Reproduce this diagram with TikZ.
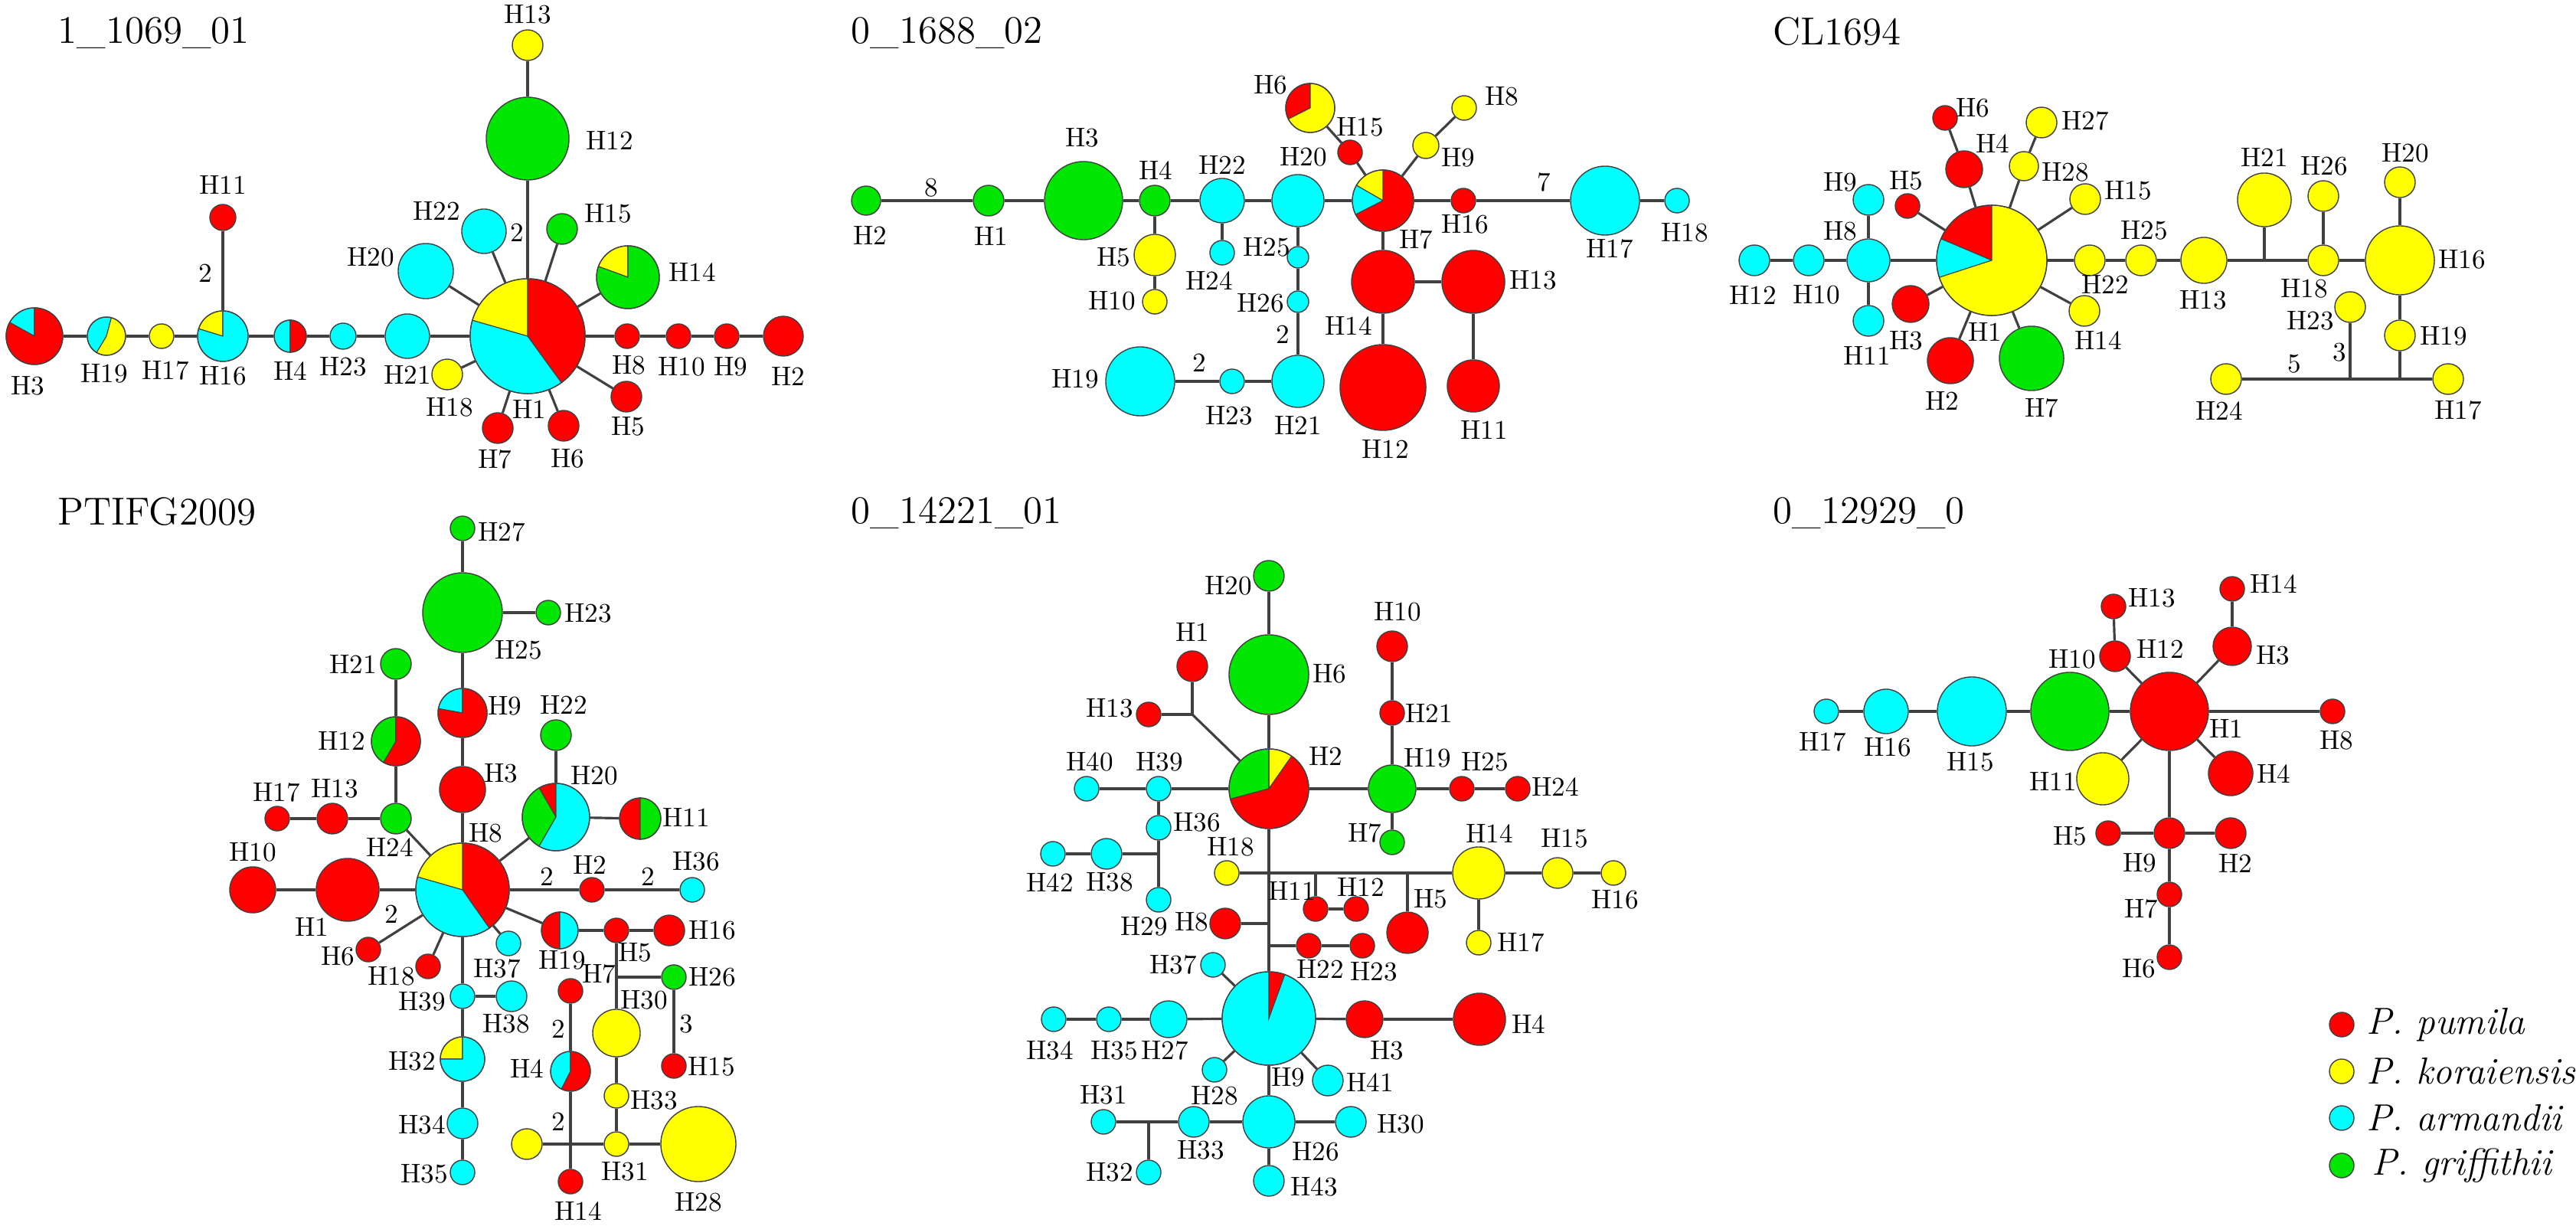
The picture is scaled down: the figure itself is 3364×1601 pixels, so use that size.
\documentclass[tikz,border=0pt]{standalone}
\usepackage{tikz}
\usetikzlibrary{calc}

\definecolor{cpum}{RGB}{255,0,0}
\definecolor{ckor}{RGB}{255,255,0}
\definecolor{carm}{RGB}{0,255,255}
\definecolor{cgri}{RGB}{0,230,0}

% haplotype circle: name, x, y, radius, colour
\newcommand{\haplo}[5]{\node[hap, fill=#5, minimum size=#4*0.02cm] (#1) at (#2,#3) {};}
% haplotype pie: name, x, y, radius, colour/start/end
\newcommand{\haplopie}[5]{%
  \foreach \c/\a/\b in {#5}
    {\filldraw[fill=\c, slice] (#2,#3) -- +(-\a:#4) arc[start angle=-\a, end angle=-\b, radius=#4] -- cycle;}
  \node[hap, minimum size=#4*0.02cm] (#1) at (#2,#3) {};}
\newcommand{\haplab}[4]{\node[lbl] (#1) at (#2,#3) {#4};}

\begin{document}
\begin{tikzpicture}[x=0.01cm, y=-0.01cm,
    hap/.style={circle, draw=black!75, line width=0.4pt, inner sep=0pt},
    slice/.style={draw=black!75, line width=0.3pt},
    edge/.style={draw=black!75, line width=0.9pt},
    lbl/.style={inner sep=0pt, font=\fontsize{10}{12}\selectfont},
    ttl/.style={inner sep=0pt, anchor=west, font=\fontsize{14.5}{17}\selectfont},
    leg/.style={inner sep=0pt, anchor=west, font=\fontsize{14}{16}\selectfont\itshape}]
    \useasboundingbox (0,0) rectangle (3364,1601);

    % 1_1069_01
    \node[ttl] (aTitle) at (75,43) {1\_1069\_01};
    \haplopie{aH3}{45}{439}{37}{carm/90/151, cpum/151/450}
    \haplopie{aH19}{139}{439}{25}{carm/75/239, ckor/239/435}
    \haplo{aH17}{211}{439}{16}{ckor}
    \haplopie{aH16}{291}{439}{33}{ckor/90/163, carm/163/450}
    \haplo{aH11}{291}{284}{17}{cpum}
    \haplopie{aH4}{379}{439}{21}{carm/90/270, cpum/270/450}
    \haplo{aH23}{448}{439}{17}{carm}
    \haplo{aH21}{532}{439}{29}{carm}
    \haplopie{aH1}{689}{439}{75}{cpum/306/450, ckor/90/164, carm/164/306}
    \haplo{aH12}{689}{181}{54}{cgri}
    \haplo{aH13}{689}{59}{20}{ckor}
    \haplo{aH22}{632}{302}{29}{carm}
    \haplo{aH20}{556}{354}{36}{carm}
    \haplo{aH15}{734}{299}{20}{cgri}
    \haplopie{aH14}{820}{362}{41}{ckor/90/160, cgri/160/450}
    \haplo{aH18}{584}{489}{20}{ckor}
    \haplo{aH7}{650}{559}{20}{cpum}
    \haplo{aH6}{736}{556}{20}{cpum}
    \haplo{aH5}{818}{518}{20}{cpum}
    \haplo{aH8}{819}{439}{16}{cpum}
    \haplo{aH10}{886}{439}{16}{cpum}
    \haplo{aH9}{949}{439}{16}{cpum}
    \haplo{aH2}{1023}{439}{26}{cpum}
    \draw[edge] (aH3)--(aH19); \draw[edge] (aH19)--(aH17); \draw[edge] (aH17)--(aH16);
    \draw[edge] (aH16)--(aH4); \draw[edge] (aH4)--(aH23); \draw[edge] (aH23)--(aH21);
    \draw[edge] (aH21)--(aH1); \draw[edge] (aH1)--(aH8); \draw[edge] (aH8)--(aH10);
    \draw[edge] (aH10)--(aH9); \draw[edge] (aH9)--(aH2); \draw[edge] (aH16)--(aH11);
    \draw[edge] (aH1)--(aH12); \draw[edge] (aH12)--(aH13);
    \draw[edge] (aH1)--(aH22); \draw[edge] (aH1)--(aH20); \draw[edge] (aH1)--(aH15);
    \draw[edge] (aH1)--(aH14); \draw[edge] (aH1)--(aH18); \draw[edge] (aH1)--(aH7);
    \draw[edge] (aH1)--(aH6); \draw[edge] (aH1)--(aH5);
    \haplab{aL3}{36}{504}{H3} \haplab{aL19}{136}{488}{H19} \haplab{aL17}{216}{484}{H17}
    \haplab{aL16}{291}{491}{H16} \haplab{aL11}{291}{241}{H11} \haplab{aN1}{268}{357}{2}
    \haplab{aL4}{379}{484}{H4} \haplab{aL23}{448}{479}{H23} \haplab{aL21}{532}{489}{H21}
    \haplab{aL18}{587}{532}{H18} \haplab{aL1}{691}{534}{H1} \haplab{aL7}{646}{600}{H7}
    \haplab{aL6}{741}{599}{H6} \haplab{aL5}{820}{557}{H5} \haplab{aL8}{821}{477}{H8}
    \haplab{aL10}{890}{479}{H10} \haplab{aL9}{954}{479}{H9} \haplab{aL2}{1029}{491}{H2}
    \haplab{aL12}{796}{184}{H12} \haplab{aL13}{689}{19}{H13} \haplab{aL22}{570}{275}{H22}
    \haplab{aN2}{675}{304}{2} \haplab{aL20}{484}{336}{H20} \haplab{aL15}{794}{279}{H15}
    \haplab{aL14}{904}{355}{H14}

    % 0_1688_02
    \node[ttl] (bTitle) at (1111,43) {0\_1688\_02};
    \haplo{bH2}{1131}{262}{19}{cgri}
    \haplo{bH1}{1291}{262}{20}{cgri}
    \haplo{bH3}{1415}{262}{51}{cgri}
    \haplo{bH4}{1508}{262}{20}{cgri}
    \haplo{bH5}{1508}{333}{27}{ckor}
    \haplo{bH10}{1508}{394}{16}{ckor}
    \haplo{bH22}{1596}{262}{29}{carm}
    \haplo{bH24}{1596}{330}{16}{carm}
    \haplo{bH20}{1695}{262}{34}{carm}
    \haplo{bH25}{1695}{336}{14}{carm}
    \haplo{bH26}{1695}{394}{14}{carm}
    \haplo{bH21}{1695}{498}{34}{carm}
    \haplo{bH23}{1609}{498}{16}{carm}
    \haplo{bH19}{1489}{498}{45}{carm}
    \haplopie{bH7}{1806}{262}{40}{ckor/90/150, carm/150/207, cpum/207/450}
    \haplo{bH15}{1763}{199}{16}{cpum}
    \haplopie{bH6}{1711}{141}{32}{cpum/90/207, ckor/207/450}
    \haplo{bH9}{1862}{190}{17}{ckor}
    \haplo{bH8}{1912}{141}{16}{ckor}
    \haplo{bH16}{1911}{262}{16}{cpum}
    \haplo{bH17}{2096}{262}{45}{carm}
    \haplo{bH18}{2190}{262}{16}{carm}
    \haplo{bH14}{1806}{368}{41}{cpum}
    \haplo{bH13}{1924}{368}{41}{cpum}
    \haplo{bH12}{1806}{506}{56}{cpum}
    \haplo{bH11}{1924}{504}{34}{cpum}
    \draw[edge] (bH2)--(bH1); \draw[edge] (bH1)--(bH3); \draw[edge] (bH3)--(bH4);
    \draw[edge] (bH4)--(bH22); \draw[edge] (bH22)--(bH20); \draw[edge] (bH20)--(bH7);
    \draw[edge] (bH7)--(bH16); \draw[edge] (bH16)--(bH17); \draw[edge] (bH17)--(bH18);
    \draw[edge] (bH4)--(bH5); \draw[edge] (bH5)--(bH10); \draw[edge] (bH22)--(bH24);
    \draw[edge] (bH20)--(bH25); \draw[edge] (bH25)--(bH26); \draw[edge] (bH26)--(bH21);
    \draw[edge] (bH21)--(bH23); \draw[edge] (bH23)--(bH19);
    \draw[edge] (bH7)--(bH15); \draw[edge] (bH15)--(bH6); \draw[edge] (bH7)--(bH9);
    \draw[edge] (bH9)--(bH8); \draw[edge] (bH7)--(bH14); \draw[edge] (bH14)--(bH13);
    \draw[edge] (bH14)--(bH12); \draw[edge] (bH13)--(bH11);
    \haplab{bL2}{1136}{307}{H2} \haplab{bN1}{1216}{245}{8} \haplab{bL1}{1294}{309}{H1}
    \haplab{bL3}{1413}{180}{H3} \haplab{bL4}{1509}{223}{H4} \haplab{bL5}{1454}{336}{H5}
    \haplab{bL10}{1452}{393}{H10} \haplab{bL22}{1596}{216}{H22} \haplab{bL24}{1579}{366}{H24}
    \haplab{bL20}{1702}{205}{H20} \haplab{bL25}{1654}{323}{H25} \haplab{bL26}{1646}{396}{H26}
    \haplab{bN2}{1675}{437}{2} \haplab{bL21}{1695}{555}{H21} \haplab{bL23}{1605}{543}{H23}
    \haplab{bN3}{1566}{474}{2} \haplab{bL19}{1404}{495}{H19} \haplab{bL7}{1849}{313}{H7}
    \haplab{bL15}{1776}{166}{H15} \haplab{bL6}{1659}{111}{H6} \haplab{bL9}{1904}{206}{H9}
    \haplab{bL8}{1961}{126}{H8} \haplab{bL16}{1913}{293}{H16} \haplab{bN4}{2016}{238}{7}
    \haplab{bL17}{2102}{325}{H17} \haplab{bL18}{2200}{304}{H18} \haplab{bL14}{1761}{425}{H14}
    \haplab{bL13}{2002}{366}{H13} \haplab{bL12}{1809}{586}{H12} \haplab{bL11}{1938}{561}{H11}

    % CL1694
    \node[ttl] (cTitle) at (2315,41) {CL1694};
    \haplo{cH12}{2291}{340}{20}{carm}
    \haplo{cH10}{2362}{340}{20}{carm}
    \haplo{cH8}{2440}{340}{28}{carm}
    \haplo{cH9}{2440}{261}{20}{carm}
    \haplo{cH11}{2440}{419}{20}{carm}
    \haplopie{cH1}{2601}{340}{72}{cpum/90/157, carm/157/198, ckor/198/450}
    \haplo{cH5}{2491}{269}{16}{cpum}
    \haplo{cH6}{2540}{154}{16}{cpum}
    \haplo{cH4}{2565}{221}{24}{cpum}
    \haplo{cH27}{2666}{160}{20}{ckor}
    \haplo{cH28}{2643}{217}{19}{ckor}
    \haplo{cH15}{2723}{260}{20}{ckor}
    \haplo{cH22}{2729}{340}{20}{ckor}
    \haplo{cH14}{2722}{406}{20}{ckor}
    \haplo{cH7}{2653}{468}{42}{cgri}
    \haplo{cH2}{2547}{471}{30}{cpum}
    \haplo{cH3}{2495}{397}{24}{cpum}
    \haplo{cH25}{2796}{340}{20}{ckor}
    \haplo{cH13}{2878}{340}{30}{ckor}
    \coordinate (cJ1) at (2957,340);
    \haplo{cH21}{2957}{261}{35}{ckor}
    \haplo{cH18}{3034}{340}{20}{ckor}
    \haplo{cH26}{3034}{256}{20}{ckor}
    \haplo{cH16}{3134}{340}{45}{ckor}
    \haplo{cH20}{3134}{238}{20}{ckor}
    \haplo{cH19}{3134}{438}{20}{ckor}
    \haplo{cH23}{3069}{401}{20}{ckor}
    \haplo{cH24}{2907}{495}{20}{ckor}
    \haplo{cH17}{3197}{495}{20}{ckor}
    \coordinate (cJ2) at (3069,495);
    \coordinate (cJ3) at (3134,495);
    \draw[edge] (cH12)--(cH10); \draw[edge] (cH10)--(cH8); \draw[edge] (cH8)--(cH1);
    \draw[edge] (cH8)--(cH9); \draw[edge] (cH8)--(cH11);
    \draw[edge] (cH1)--(cH5); \draw[edge] (cH1)--(cH4); \draw[edge] (cH4)--(cH6);
    \draw[edge] (cH1)--(cH28); \draw[edge] (cH28)--(cH27); \draw[edge] (cH1)--(cH15);
    \draw[edge] (cH1)--(cH22); \draw[edge] (cH1)--(cH14); \draw[edge] (cH1)--(cH7);
    \draw[edge] (cH1)--(cH2); \draw[edge] (cH1)--(cH3);
    \draw[edge] (cH22)--(cH25); \draw[edge] (cH25)--(cH13); \draw[edge] (cH13)--(cJ1);
    \draw[edge] (cJ1)--(cH18); \draw[edge] (cJ1)--(cH21); \draw[edge] (cH18)--(cH16);
    \draw[edge] (cH18)--(cH26); \draw[edge] (cH16)--(cH20); \draw[edge] (cH16)--(cH19);
    \draw[edge] (cH19)--(cJ3); \draw[edge] (cH24)--(cJ2); \draw[edge] (cJ2)--(cJ3);
    \draw[edge] (cJ3)--(cH17); \draw[edge] (cH23)--(cJ2);
    \haplab{cL12}{2289}{385}{H12} \haplab{cL10}{2372}{385}{H10} \haplab{cL8}{2403}{302}{H8}
    \haplab{cL9}{2403}{238}{H9} \haplab{cL11}{2438}{464}{H11} \haplab{cL1}{2592}{433}{H1}
    \haplab{cL5}{2489}{236}{H5} \haplab{cL6}{2576}{141}{H6} \haplab{cL4}{2602}{188}{H4}
    \haplab{cL27}{2723}{158}{H27} \haplab{cL28}{2697}{225}{H28} \haplab{cL15}{2779}{249}{H15}
    \haplab{cL22}{2749}{371}{H22} \haplab{cL14}{2740}{444}{H14} \haplab{cL7}{2666}{533}{H7}
    \haplab{cL2}{2536}{523}{H2} \haplab{cL3}{2489}{445}{H3} \haplab{cL25}{2800}{301}{H25}
    \haplab{cL13}{2877}{392}{H13} \haplab{cL21}{2957}{206}{H21} \haplab{cL18}{3009}{377}{H18}
    \haplab{cL26}{3035}{217}{H26} \haplab{cL16}{3215}{339}{H16} \haplab{cL20}{3141}{200}{H20}
    \haplab{cL19}{3191}{439}{H19} \haplab{cL23}{3017}{419}{H23} \haplab{cL24}{2898}{536}{H24}
    \haplab{cL17}{3210}{536}{H17} \haplab{cN1}{2996}{475}{5} \haplab{cN2}{3055}{460}{3}

    % PTIFG2009
    \node[ttl] (dTitle) at (75,668) {PTIFG2009};
    \haplo{dH27}{604}{690}{16}{cgri}
    \haplo{dH25}{604}{800}{52}{cgri}
    \haplo{dH23}{716}{800}{16}{cgri}
    \haplopie{dH9}{604}{931}{32}{carm/90/170, cpum/170/450}
    \haplo{dH3}{604}{1031}{30}{cpum}
    \haplopie{dH8}{604}{1162}{61}{cpum/305/450, ckor/90/164, carm/164/305}
    \haplo{dH21}{517}{867}{20}{cgri}
    \haplopie{dH12}{517}{968}{32}{cgri/90/240, cpum/240/450}
    \haplo{dH24}{517}{1069}{20}{cgri}
    \haplo{dH13}{434}{1069}{20}{cpum}
    \haplo{dH17}{362}{1069}{16}{cpum}
    \haplo{dH10}{330}{1162}{30}{cpum}
    \haplo{dH1}{454}{1162}{41}{cpum}
    \haplo{dH6}{481}{1240}{16}{cpum}
    \haplo{dH18}{559}{1262}{16}{cpum}
    \haplo{dH37}{664}{1232}{16}{carm}
    \haplo{dH39}{604}{1301}{16}{carm}
    \haplo{dH38}{668}{1301}{20}{carm}
    \haplopie{dH32}{604}{1383}{29}{ckor/90/180, carm/180/450}
    \haplo{dH34}{604}{1467}{20}{carm}
    \haplo{dH35}{604}{1531}{16}{carm}
    \haplopie{dH20}{726}{1067}{44}{cpum/90/120, cgri/120/240, carm/240/450}
    \haplo{dH22}{726}{960}{20}{cgri}
    \haplopie{dH11}{836}{1069}{27}{cpum/90/270, cgri/270/450}
    \haplo{dH2}{773}{1162}{16}{cpum}
    \haplo{dH36}{904}{1162}{16}{carm}
    \haplopie{dH19}{731}{1215}{24}{cpum/90/270, carm/270/450}
    \haplo{dH5}{805}{1215}{16}{cpum}
    \haplo{dH16}{874}{1215}{20}{cpum}
    \coordinate (dJ7) at (805,1276);
    \haplo{dH26}{880}{1276}{16}{cgri}
    \haplo{dH15}{880}{1392}{16}{cpum}
    \haplo{dH30}{805}{1349}{31}{ckor}
    \haplo{dH33}{805}{1431}{16}{ckor}
    \haplo{dH31}{805}{1494}{16}{ckor}
    \haplo{dH28}{912}{1494}{49}{ckor}
    \haplo{dHy}{688}{1494}{20}{ckor}
    \haplopie{dH4}{745}{1399}{26}{carm/90/243, cpum/243/450}
    \haplo{dHr}{745}{1294}{16}{cpum}
    \haplo{dH14}{745}{1543}{16}{cpum}
    \coordinate (dJ4) at (745,1494);
    \draw[edge] (dH27)--(dH25); \draw[edge] (dH25)--(dH23); \draw[edge] (dH25)--(dH9);
    \draw[edge] (dH9)--(dH3); \draw[edge] (dH3)--(dH8); \draw[edge] (dH8)--(dH24);
    \draw[edge] (dH24)--(dH13); \draw[edge] (dH13)--(dH17); \draw[edge] (dH24)--(dH12);
    \draw[edge] (dH12)--(dH21); \draw[edge] (dH8)--(dH1); \draw[edge] (dH1)--(dH10);
    \draw[edge] (dH8)--(dH6); \draw[edge] (dH8)--(dH18); \draw[edge] (dH8)--(dH37);
    \draw[edge] (dH8)--(dH39); \draw[edge] (dH39)--(dH38); \draw[edge] (dH39)--(dH32);
    \draw[edge] (dH32)--(dH34); \draw[edge] (dH34)--(dH35);
    \draw[edge] (dH8)--(dH20); \draw[edge] (dH20)--(dH22); \draw[edge] (dH20)--(dH11);
    \draw[edge] (dH8)--(dH2); \draw[edge] (dH2)--(dH36);
    \draw[edge] (dH8)--(dH19); \draw[edge] (dH19)--(dH5); \draw[edge] (dH5)--(dH16);
    \draw[edge] (dH5)--(dJ7); \draw[edge] (dJ7)--(dH30); \draw[edge] (dH30)--(dH33);
    \draw[edge] (dH33)--(dH31); \draw[edge] (dH31)--(dH28); \draw[edge] (dJ7)--(dH26);
    \draw[edge] (dH26)--(dH15); \draw[edge] (dHy)--(dJ4); \draw[edge] (dJ4)--(dH31);
    \draw[edge] (dHr)--(dH4); \draw[edge] (dH4)--(dJ4); \draw[edge] (dJ4)--(dH14);
    \haplab{dL27}{655}{695}{H27} \haplab{dL25}{677}{849}{H25} \haplab{dL23}{768}{801}{H23}
    \haplab{dL9}{659}{922}{H9} \haplab{dL3}{654}{1010}{H3} \haplab{dL8}{634}{1088}{H8}
    \haplab{dL21}{461}{867}{H21} \haplab{dL12}{446}{967}{H12} \haplab{dL24}{509}{1106}{H24}
    \haplab{dL13}{437}{1030}{H13} \haplab{dL17}{361}{1035}{H17} \haplab{dL10}{330}{1113}{H10}
    \haplab{dL1}{407}{1210}{H1} \haplab{dL6}{441}{1249}{H6} \haplab{dN1}{511}{1194}{2}
    \haplab{dL18}{511}{1275}{H18} \haplab{dL37}{649}{1265}{H37} \haplab{dL39}{551}{1308}{H39}
    \haplab{dL38}{661}{1337}{H38} \haplab{dL32}{538}{1386}{H32} \haplab{dL34}{551}{1469}{H34}
    \haplab{dL35}{554}{1533}{H35} \haplab{dL20}{776}{1013}{H20} \haplab{dL22}{736}{920}{H22}
    \haplab{dL11}{896}{1067}{H11} \haplab{dL2}{770}{1129}{H2} \haplab{dN2}{714}{1145}{2}
    \haplab{dN3}{846}{1145}{2} \haplab{dL36}{909}{1125}{H36} \haplab{dL19}{734}{1254}{H19}
    \haplab{dL5}{829}{1244}{H5} \haplab{dL16}{930}{1215}{H16} \haplab{dL7}{782}{1272}{H7}
    \haplab{dL26}{930}{1276}{H26} \haplab{dN4}{896}{1337}{3} \haplab{dL15}{929}{1393}{H15}
    \haplab{dL30}{841}{1306}{H30} \haplab{dL33}{854}{1437}{H33} \haplab{dL31}{816}{1530}{H31}
    \haplab{dL28}{912}{1570}{H28} \haplab{dL4}{688}{1395}{H4} \haplab{dN5}{729}{1344}{2}
    \haplab{dL14}{755}{1581}{H14} \haplab{dN6}{729}{1465}{2}

    % 0_14221_01
    \node[ttl] (eTitle) at (1111,670) {0\_14221\_01};
    \haplo{eH20}{1657}{752}{20}{cgri}
    \haplo{eH6}{1657}{881}{52}{cgri}
    \haplopie{eH2}{1657}{1030}{52}{ckor/55/90, cgri/90/195, cpum/195/415}
    \haplo{eH1}{1557}{870}{20}{cpum}
    \haplo{eH13}{1500}{933}{16}{cpum}
    \coordinate (eJ1) at (1557,933);
    \haplo{eH40}{1419}{1030}{16}{carm}
    \haplo{eH39}{1513}{1030}{16}{carm}
    \haplo{eH36}{1513}{1081}{16}{carm}
    \coordinate (eJ2) at (1513,1115);
    \haplo{eH38}{1445}{1115}{20}{carm}
    \haplo{eH42}{1375}{1115}{16}{carm}
    \haplo{eH29}{1513}{1175}{16}{carm}
    \haplo{eH10}{1818}{844}{20}{cpum}
    \haplo{eH21}{1818}{931}{16}{cpum}
    \haplo{eH19}{1818}{1030}{31}{cgri}
    \haplo{eH25}{1909}{1030}{16}{cpum}
    \haplo{eH24}{1982}{1030}{16}{cpum}
    \haplo{eH7}{1818}{1100}{16}{cgri}
    \coordinate (eJA) at (1657,1140);
    \haplo{eH18}{1602}{1140}{16}{ckor}
    \coordinate (eJD) at (1718,1140);
    \haplo{eH11}{1718}{1187}{16}{cpum}
    \haplo{eH12}{1771}{1187}{16}{cpum}
    \coordinate (eJE) at (1838,1140);
    \haplo{eH5}{1838}{1218}{27}{cpum}
    \haplo{eH14}{1931}{1140}{34}{ckor}
    \haplo{eH15}{2034}{1140}{20}{ckor}
    \haplo{eH16}{2107}{1140}{16}{ckor}
    \haplo{eH17}{1931}{1231}{16}{ckor}
    \coordinate (eJB) at (1657,1206);
    \haplo{eH8}{1600}{1206}{20}{cpum}
    \coordinate (eJC) at (1657,1235);
    \haplo{eH22}{1709}{1235}{16}{cpum}
    \haplo{eH23}{1779}{1235}{16}{cpum}
    \haplopie{eH9}{1657}{1330}{61}{cpum/70/90, carm/90/430}
    \haplo{eH37}{1584}{1260}{16}{carm}
    \haplo{eH27}{1526}{1331}{24}{carm}
    \haplo{eH35}{1448}{1331}{16}{carm}
    \haplo{eH34}{1376}{1331}{16}{carm}
    \haplo{eH3}{1782}{1331}{24}{cpum}
    \haplo{eH4}{1932}{1331}{34}{cpum}
    \haplo{eH28}{1586}{1397}{16}{carm}
    \haplo{eH41}{1734}{1411}{20}{carm}
    \haplo{eH26}{1657}{1465}{34}{carm}
    \haplo{eH30}{1764}{1465}{20}{carm}
    \haplo{eH33}{1559}{1465}{20}{carm}
    \coordinate (eJF) at (1500,1465);
    \haplo{eH31}{1441}{1465}{16}{carm}
    \haplo{eH32}{1500}{1531}{16}{carm}
    \haplo{eH43}{1657}{1542}{20}{carm}
    \draw[edge] (eH20)--(eH6); \draw[edge] (eH6)--(eH2); \draw[edge] (eH2)--(eJ1);
    \draw[edge] (eJ1)--(eH1); \draw[edge] (eJ1)--(eH13); \draw[edge] (eH2)--(eH39);
    \draw[edge] (eH39)--(eH40); \draw[edge] (eH39)--(eH36); \draw[edge] (eH36)--(eJ2);
    \draw[edge] (eJ2)--(eH38); \draw[edge] (eH38)--(eH42); \draw[edge] (eJ2)--(eH29);
    \draw[edge] (eH2)--(eH19); \draw[edge] (eH19)--(eH21); \draw[edge] (eH21)--(eH10);
    \draw[edge] (eH19)--(eH25); \draw[edge] (eH25)--(eH24); \draw[edge] (eH19)--(eH7);
    \draw[edge] (eH2)--(eJA); \draw[edge] (eJA)--(eH18); \draw[edge] (eJA)--(eJD);
    \draw[edge] (eJD)--(eJE); \draw[edge] (eJE)--(eH14); \draw[edge] (eJD)--(eH11);
    \draw[edge] (eH11)--(eH12); \draw[edge] (eJE)--(eH5); \draw[edge] (eH14)--(eH15);
    \draw[edge] (eH15)--(eH16); \draw[edge] (eH14)--(eH17);
    \draw[edge] (eJA)--(eJB); \draw[edge] (eJB)--(eH8); \draw[edge] (eJB)--(eJC);
    \draw[edge] (eJC)--(eH22); \draw[edge] (eH22)--(eH23); \draw[edge] (eJC)--(eH9);
    \draw[edge] (eH9)--(eH37); \draw[edge] (eH9)--(eH27); \draw[edge] (eH27)--(eH35);
    \draw[edge] (eH35)--(eH34); \draw[edge] (eH9)--(eH3); \draw[edge] (eH3)--(eH4);
    \draw[edge] (eH9)--(eH28); \draw[edge] (eH9)--(eH41); \draw[edge] (eH9)--(eH26);
    \draw[edge] (eH26)--(eH30); \draw[edge] (eH26)--(eH43); \draw[edge] (eH26)--(eH33);
    \draw[edge] (eH33)--(eJF); \draw[edge] (eJF)--(eH31); \draw[edge] (eJF)--(eH32);
    \haplab{eL20}{1604}{765}{H20} \haplab{eL6}{1736}{880}{H6} \haplab{eL1}{1557}{825}{H1}
    \haplab{eL13}{1449}{925}{H13} \haplab{eL2}{1731}{987}{H2} \haplab{eL40}{1423}{995}{H40}
    \haplab{eL39}{1514}{995}{H39} \haplab{eL36}{1563}{1074}{H36} \haplab{eL38}{1449}{1152}{H38}
    \haplab{eL42}{1371}{1152}{H42} \haplab{eL29}{1494}{1210}{H29} \haplab{eL10}{1825}{799}{H10}
    \haplab{eL21}{1866}{931}{H21} \haplab{eL19}{1864}{990}{H19} \haplab{eL25}{1939}{995}{H25}
    \haplab{eL24}{2031}{1027}{H24} \haplab{eL7}{1782}{1088}{H7} \haplab{eL18}{1607}{1106}{H18}
    \haplab{eL11}{1687}{1163}{H11} \haplab{eL12}{1777}{1158}{H12} \haplab{eL5}{1868}{1174}{H5}
    \haplab{eL14}{1945}{1088}{H14} \haplab{eL15}{2043}{1095}{H15} \haplab{eL16}{2109}{1175}{H16}
    \haplab{eL17}{1986}{1231}{H17} \haplab{eL8}{1556}{1204}{H8} \haplab{eL22}{1724}{1265}{H22}
    \haplab{eL23}{1794}{1269}{H23} \haplab{eL9}{1682}{1407}{H9} \haplab{eL37}{1532}{1260}{H37}
    \haplab{eL27}{1521}{1372}{H27} \haplab{eL35}{1455}{1372}{H35} \haplab{eL34}{1371}{1372}{H34}
    \haplab{eL3}{1811}{1372}{H3} \haplab{eL4}{1996}{1337}{H4} \haplab{eL28}{1586}{1431}{H28}
    \haplab{eL41}{1789}{1413}{H41} \haplab{eL26}{1718}{1504}{H26} \haplab{eL30}{1829}{1468}{H30}
    \haplab{eL33}{1568}{1502}{H33} \haplab{eL31}{1441}{1430}{H31} \haplab{eL32}{1449}{1531}{H32}
    \haplab{eL43}{1716}{1550}{H43}

    % 0_12929_0
    \node[ttl] (fTitle) at (2315,670) {0\_12929\_0};
    \haplo{fH17}{2385}{929}{16}{carm}
    \haplo{fH16}{2463}{929}{29}{carm}
    \haplo{fH15}{2575}{929}{45}{carm}
    \haplo{fH10}{2703}{929}{51}{cgri}
    \haplo{fH1}{2833}{929}{51}{cpum}
    \haplo{fH8}{3046}{929}{16}{cpum}
    \haplo{fH12}{2762}{857}{20}{cpum}
    \haplo{fH13}{2760}{792}{16}{cpum}
    \haplo{fH3}{2915}{844}{25}{cpum}
    \haplo{fH14}{2915}{769}{16}{cpum}
    \haplo{fH11}{2746}{1017}{34}{ckor}
    \haplo{fH4}{2913}{1010}{29}{cpum}
    \haplo{fH9}{2833}{1088}{20}{cpum}
    \haplo{fH5}{2753}{1088}{16}{cpum}
    \haplo{fH2}{2913}{1088}{20}{cpum}
    \haplo{fH7}{2833}{1168}{16}{cpum}
    \haplo{fH6}{2833}{1250}{16}{cpum}
    \draw[edge] (fH17)--(fH16); \draw[edge] (fH16)--(fH15); \draw[edge] (fH15)--(fH10);
    \draw[edge] (fH10)--(fH1); \draw[edge] (fH1)--(fH8); \draw[edge] (fH1)--(fH12);
    \draw[edge] (fH12)--(fH13); \draw[edge] (fH1)--(fH3); \draw[edge] (fH3)--(fH14);
    \draw[edge] (fH1)--(fH11); \draw[edge] (fH1)--(fH4); \draw[edge] (fH1)--(fH9);
    \draw[edge] (fH9)--(fH5); \draw[edge] (fH9)--(fH2); \draw[edge] (fH9)--(fH7);
    \draw[edge] (fH7)--(fH6);
    \haplab{fL17}{2380}{969}{H17} \haplab{fL16}{2465}{976}{H16} \haplab{fL15}{2573}{995}{H15}
    \haplab{fL10}{2706}{861}{H10} \haplab{fL1}{2907}{951}{H1} \haplab{fL8}{3051}{967}{H8}
    \haplab{fL12}{2821}{847}{H12} \haplab{fL13}{2810}{781}{H13} \haplab{fL3}{2968}{856}{H3}
    \haplab{fL14}{2969}{762}{H14} \haplab{fL11}{2681}{1020}{H11} \haplab{fL4}{2969}{1010}{H4}
    \haplab{fL9}{2794}{1127}{H9} \haplab{fL5}{2703}{1092}{H5} \haplab{fL2}{2919}{1127}{H2}
    \haplab{fL7}{2796}{1187}{H7} \haplab{fL6}{2793}{1265}{H6}

    % legend
    \haplo{gPum}{3058}{1338}{16}{cpum}
    \haplo{gKor}{3058}{1399}{16}{ckor}
    \haplo{gArm}{3058}{1460}{16}{carm}
    \haplo{gGri}{3058}{1522}{16}{cgri}
    \node[leg] (gTPum) at (3090,1338) {P. pumila};
    \node[leg] (gTKor) at (3090,1399) {P. koraiensis};
    \node[leg] (gTArm) at (3090,1460) {P. armandii};
    \node[leg] (gTGri) at (3097,1522) {P. griffithii};
\end{tikzpicture}
\end{document}
